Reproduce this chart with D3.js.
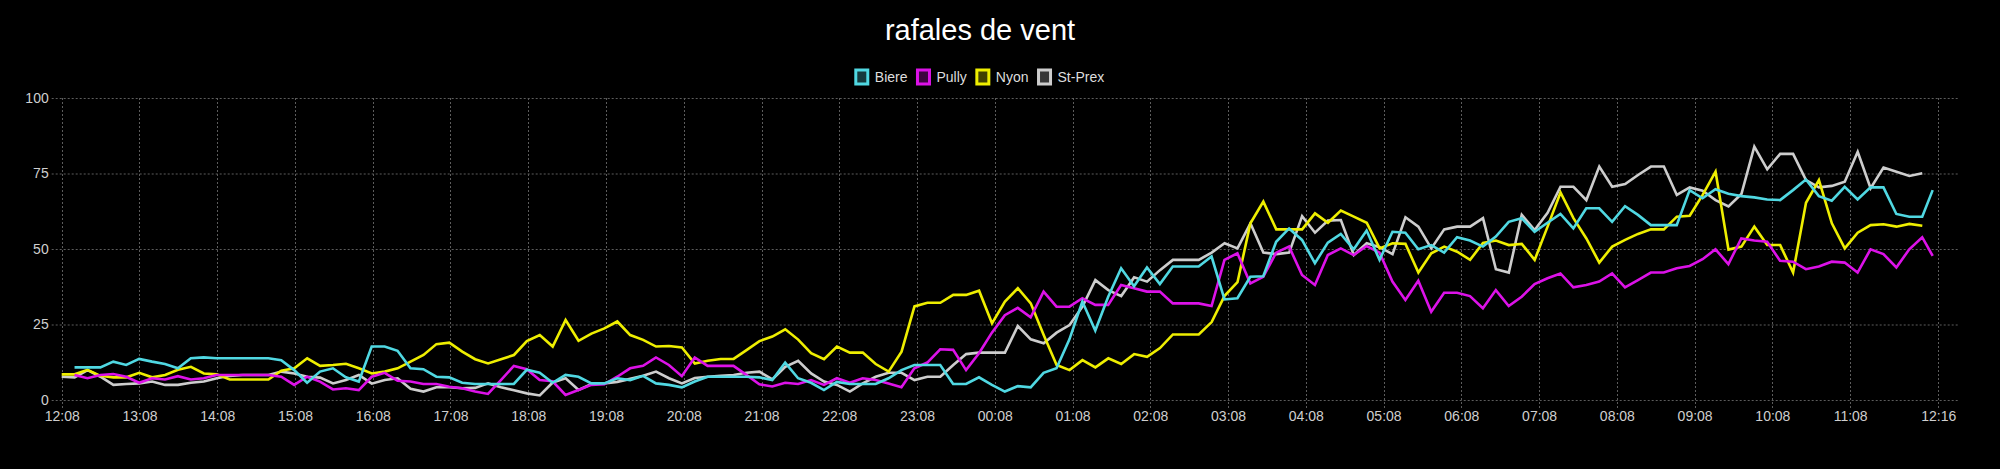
<!DOCTYPE html>
<html><head><meta charset="utf-8">
<script src="https://cdn.jsdelivr.net/npm/d3@7"></script>
<style>
html,body{margin:0;padding:0;background:#000;overflow:hidden;}
svg{display:block;background:#000;}
text{font-family:"Liberation Sans", Arial, Helvetica, sans-serif;}
</style></head><body>
<svg id="chart" width="2000" height="469"></svg>
<script>
// ---------- data ----------
const chartTitle = "rafales de vent";
const seriesNames = ["Biere", "Pully", "Nyon", "St-Prex"];
const seriesColors = ["#50d8e2", "#dc12e8", "#eeee00", "#cdcdcd"];
const yTickValues = [0, 25, 50, 75, 100];
const xTickLabels = ["12:08","13:08","14:08","15:08","16:08","17:08","18:08","19:08","20:08","21:08","22:08","23:08",
  "00:08","01:08","02:08","03:08","04:08","05:08","06:08","07:08","08:08","09:08","10:08","11:08","12:16"];
const startClock = "12:08";          // first sample of Nyon / St-Prex
const stepMinutes = 9.97;            // sampling interval
const seriesStartOffset = [9.9, 9.9, 0, 0];        // minutes after 12:08
const seriesLastPointOffset = [1443.7, 1443.7, null, null]; // extra final reading
const axisEndMinutes = 1464;

const biere = [10.8,10.8,10.8,12.7,11.6,13.6,12.7,11.9,10.5,13.8,
 14.1,13.8,13.8,13.8,13.8,13.8,13.2,9.9,5.7,9.4,
 10.5,7.5,6.1,17.7,17.7,16.3,10.5,10.2,7.7,7.5,
 5.7,5.3,5.3,5.3,5.3,10,9,5.7,8.3,7.7,
 5.5,5.5,7.2,6.6,8,5.5,5,4.2,6.1,7.7,
 7.7,7.7,7.7,7.5,6.6,12.4,7.2,5.7,3.3,6,
 5.3,5.3,5.3,7.2,9.9,11.6,11.6,11.6,5.3,5.3,
 7.5,5,2.8,4.6,4.2,9,10.5,20.1,32.6,23,
 34.2,43.6,37.7,43.9,38.4,44.2,44.2,44.2,47.5,33.3,
 33.7,40.8,41,52.4,56.8,53,45.3,52.1,55,49.9,
 56.1,46.4,55.7,55.4,49.9,51.3,48.8,53.9,52.8,50.8,
 54.1,59,60.2,55.7,58.7,61.6,56.8,63.5,63.5,59,
 64.2,61.3,57.9,57.9,57.9,69.5,66.8,69.8,68.3,67.5,
 67.1,66.4,66.2,69.5,73,67.5,66,70.6,66.4,70.4,
 70.4,61.6,60.7,60.7,69.5];
const pully = [8.3,7.2,8.3,8.6,7.7,5.7,7.2,6.8,7.9,6.8,
 7.2,8.3,8.3,8.3,8.3,8.3,7.7,5,7.7,6.1,
 3.5,3.9,3.3,7.7,9,6.4,6.1,5.3,5.3,4.4,
 3.9,2.8,2,6.6,11.3,10.2,6.6,6.2,1.7,3.3,
 5,5.2,7.7,10.5,11.3,14.1,11.6,7.9,14.1,11.3,
 11.3,11.3,8.3,5.2,4.5,5.7,5.3,6.6,5,7.2,
 5.7,7.2,6.6,5.5,4.2,10.5,12.4,16.8,16.6,9.9,
 15.5,22.3,28.1,30.5,27.4,35.9,30.9,30.9,33.7,31.5,
 31.5,38.1,37,35.9,35.9,32,32,32,31.1,46.4,
 48.6,38.6,40.8,48.8,50.8,41.4,38.1,48,50.2,48,
 51,48.8,39.2,33.1,39.5,29.2,35.5,35.5,34.4,30.4,
 36.4,31.1,34.2,38.4,40.3,41.9,37.3,38.1,39.2,41.9,
 37.3,39.7,42.2,42.2,43.6,44.4,46.6,49.9,45,53.5,
 52.8,52.4,46.1,45.8,43.3,44.2,45.8,45.5,42.2,49.9,
 48.3,43.9,49.9,53.9,47.7];
const nyon = [8.5,8.5,10,8,7.5,7.5,9,7.5,8.3,10,
 11,8.8,8.5,6.8,6.8,6.8,6.8,9.7,10.5,13.8,
 11.3,11.6,12,10.5,8.8,9.4,10.5,12.7,14.9,18.5,
 19,16,13.5,12.1,13.5,14.9,19.5,21.5,17.7,26.5,
 19.6,22,23.7,26,21.5,19.9,17.7,17.9,17.4,12.1,
 13,13.6,13.6,16.5,19.5,21,23.4,20,15.5,13.5,
 17.7,15.7,15.7,11.9,9.4,16,31,32.2,32.2,34.8,
 34.8,36.2,25.4,32.6,37,32,21.5,11.6,9.9,13.2,
 10.8,13.8,11.9,15.2,14.3,17.2,21.7,21.7,21.7,25.8,
 34.5,39,58.5,65.7,56.5,56.5,56.5,61.8,58.7,62.7,
 60.7,58.7,50.2,51.9,51.7,42.2,48.6,50.8,49.1,46.4,
 52,52.8,51.3,51.7,46.4,57.4,68.7,60.2,53.5,45.5,
 50.8,53,55,56.5,56.5,60.7,61,67.9,75.6,49.8,
 50.8,57.4,51.3,51.3,42.2,65.3,72.8,58.5,50.2,55.4,
 57.9,58.2,57.4,58.3,57.7];
const stPrex = [7.7,7.5,9.9,7.7,5,5.3,5.5,6.1,5,5,
 5.7,6.1,7.2,8,8.3,8.3,8.3,9.4,8.8,7.7,
 7.4,5.5,6.6,8.3,5.4,6.6,7.2,3.7,2.8,4.2,
 4.2,3.9,4,5.5,4.2,3.2,2.2,1.5,5.8,7.2,
 3.3,5.3,5.5,6,7,8,9.4,7.2,5.5,7.3,
 7.7,8,8.3,9,9.4,6.8,11,13,8.8,6.1,
 5,2.8,5.5,7.7,9,9,6.6,7.7,7.7,11.6,
 15.2,15.7,15.7,15.7,24.5,20.1,18.8,22.3,24.8,30.9,
 39.7,36.4,34.4,40.6,39.2,43,46.4,46.4,46.4,48.8,
 51.9,50.2,58.5,48.8,48.3,48.8,60.9,55.4,59.4,59.6,
 48,51.9,50.6,48.3,60.5,57.4,50.2,56.5,57.4,57.4,
 60.2,43.3,42.2,61.3,56.3,62,70.6,70.6,66.2,77.3,
 70.6,71.5,74.5,77.3,77.3,67.9,70.4,69.3,66.2,64.1,
 68.2,83.9,76.4,81.5,81.5,72.8,70.4,70.9,72.3,82.2,
 70.1,77,75.6,74.2,75.1];
const seriesValues = [biere, pully, nyon, stPrex];

// ---------- layout ----------
const plot = {left: 61.7, right: 1959, top: 98, bottom: 400};
const centerX = 980;

const svg = d3.select("#chart");
const [sh, sm] = startClock.split(":").map(Number);
const base = new Date(2024, 2, 10, sh, sm);
const toDate = m => new Date(base.getTime() + m * 60000);

const x = d3.scaleTime().domain([toDate(0), toDate(axisEndMinutes)]).range([plot.left, plot.right]);
const y = d3.scaleLinear().domain([0, 100]).range([plot.bottom, plot.top]);

// tick times from labels
const startMin = sh * 60 + sm;
let prev = -1;
const xTickDates = xTickLabels.map((lab, i) => {
  const [h, m] = lab.split(":").map(Number);
  let off = ((h * 60 + m) - startMin + 1440) % 1440;
  while (off <= prev) off += 1440;
  prev = off;
  return toDate(off);
});

const gridColor = "#5c5c5c";
const grid = svg.append("g");
// horizontal grid
grid.selectAll("line.h").data(yTickValues).join("line")
  .attr("x1", plot.left - 10).attr("x2", plot.right)
  .attr("y1", d => y(d) + 0.5).attr("y2", d => y(d) + 0.5)
  .attr("stroke", gridColor).attr("stroke-width", 1).attr("stroke-dasharray", "2,2");
// vertical grid
grid.selectAll("line.v").data(xTickDates).join("line")
  .attr("x1", d => Math.round(x(d)) + 0.5).attr("x2", d => Math.round(x(d)) + 0.5)
  .attr("y1", plot.top).attr("y2", plot.bottom + 9)
  .attr("stroke", gridColor).attr("stroke-width", 1).attr("stroke-dasharray", "2,2");

// axes labels through d3 axes
const xAxis = d3.axisBottom(x).tickValues(xTickDates).tickFormat((d, i) => xTickLabels[i]).tickSize(0).tickPadding(0);
const gx = svg.append("g").attr("transform", `translate(0,${plot.bottom + 11})`).call(xAxis);
gx.select(".domain").remove();
gx.selectAll("text").attr("fill", "#cfcfcf").attr("font-size", 14)
  .attr("font-family", '"Liberation Sans", Arial, sans-serif').attr("dy", "0.71em");

const yAxis = d3.axisLeft(y).tickValues(yTickValues).tickSize(0).tickPadding(0);
const gy = svg.append("g").attr("transform", `translate(${plot.left - 13},0)`).call(yAxis);
gy.select(".domain").remove();
gy.selectAll("text").attr("fill", "#cfcfcf").attr("font-size", 14)
  .attr("font-family", '"Liberation Sans", Arial, sans-serif');

// lines
const line = d3.line().x(d => x(d.t)).y(d => y(d.v));
const seriesData = seriesNames.map((name, s) => {
  const vals = seriesValues[s];
  const pts = vals.map((v, k) => {
    let m = seriesStartOffset[s] + k * stepMinutes;
    if (k === vals.length - 1 && seriesLastPointOffset[s] != null) m = seriesLastPointOffset[s];
    return {t: toDate(m), v};
  });
  return {name, color: seriesColors[s], pts};
});
svg.append("g").selectAll("path").data(seriesData.slice().reverse()).join("path")
  .attr("d", d => line(d.pts)).attr("fill", "none")
  .attr("stroke", d => d.color).attr("stroke-width", 2.6)
  .attr("stroke-linejoin", "miter").attr("stroke-miterlimit", 10);

// title
svg.append("text").attr("x", centerX).attr("y", 40).attr("text-anchor", "middle")
  .attr("fill", "#ffffff").attr("font-size", 29).text(chartTitle);

// legend
const lg = svg.append("g");
const boxW = 12, boxH = 14, fs = 14, pad = 10;
const items = lg.selectAll("g").data(seriesData).join("g");
items.append("rect").attr("width", boxW).attr("height", boxH)
  .attr("fill", d => d3.color(d.color).copy({opacity: 0.27}))
  .attr("stroke", d => d.color).attr("stroke-width", 3);
items.append("text").attr("x", boxW + fs / 2).attr("y", boxH / 2).attr("dy", "0.35em")
  .attr("fill", "#dddddd").attr("font-size", fs).text(d => d.name);
const widths = [];
items.each(function() { widths.push(boxW + fs / 2 + d3.select(this).select("text").node().getComputedTextLength()); });
const total = d3.sum(widths) + pad * (widths.length - 1);
let cx = centerX - total / 2;
items.attr("transform", (d, i) => { const t = `translate(${cx},${77 - boxH / 2})`; cx += widths[i] + pad; return t; });
</script>
</body></html>
